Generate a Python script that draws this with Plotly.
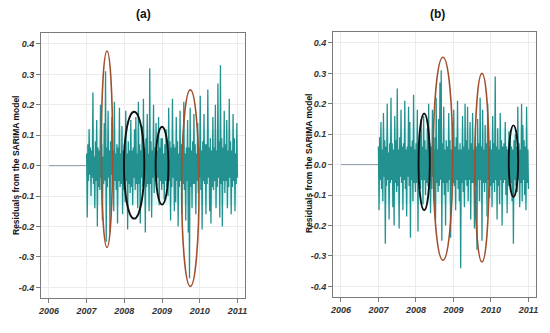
import numpy as np
import plotly.graph_objects as go

# ---------------- data ----------------
tick_years = [2006, 2007, 2008, 2009, 2010, 2011]
tick_values_y = [-0.4, -0.3, -0.2, -0.1, 0.0, 0.1, 0.2, 0.3, 0.4]
tick_labels_y = ["-0.4", "-0.3", "-0.2", "-0.1", "0.0", "0.1", "0.2", "0.3", "0.4"]

baseline_years = [2006.0, 2007.0]
baseline_values = [0.0, 0.0]

series_start, series_end = 2007.0, 2011.0

residuals_a = [
    0.04, -0.17, 0.07, -0.05, 0.12, -0.03, 0.06, -0.10, 0.05, -0.04,
    0.24, -0.06, 0.03, -0.14, 0.08, -0.05, 0.15, -0.20, 0.06, -0.07,
    0.05, -0.08, 0.20, -0.04, 0.07, -0.18, 0.03, -0.06, 0.14, -0.05,
    0.31, -0.25, 0.06, -0.07, 0.18, -0.04, 0.05, -0.22, 0.08, -0.03,
    0.16, -0.06, 0.05, -0.15, 0.21, -0.05, 0.04, -0.08, 0.07, -0.19,
    0.06, -0.05, 0.19, -0.07, 0.04, -0.06, 0.13, -0.16, 0.05, -0.08,
    0.07, -0.12, 0.18, -0.05, 0.04, -0.21, 0.08, -0.06, 0.05, -0.09,
    0.15, -0.07, 0.05, -0.13, 0.06, -0.04, 0.12, -0.08, 0.16, -0.06,
    0.04, -0.14, 0.21, -0.06, 0.07, -0.19, 0.05, -0.04, 0.13, -0.07,
    0.22, -0.05, 0.06, -0.22, 0.09, -0.07, 0.17, -0.06, 0.04, -0.15,
    0.32, -0.06, 0.08, -0.17, 0.05, -0.04, 0.20, -0.09, 0.06, -0.05,
    0.14, -0.07, 0.05, -0.04, 0.16, -0.13, 0.06, -0.05, 0.09, -0.08,
    0.09, -0.06, 0.04, -0.11, 0.07, -0.05, 0.12, -0.07, 0.05, -0.10,
    0.19, -0.05, 0.08, -0.18, 0.06, -0.07, 0.22, -0.04, 0.07, -0.15,
    0.06, -0.12, 0.16, -0.05, 0.08, -0.20, 0.04, -0.07, 0.18, -0.05,
    0.07, -0.16, 0.05, -0.06, 0.21, -0.08, 0.04, -0.18, 0.06, -0.05,
    0.15, -0.22, 0.06, -0.37, 0.19, -0.07, 0.05, -0.14, 0.08, -0.06,
    0.17, -0.06, 0.07, -0.16, 0.04, -0.05, 0.14, -0.09, 0.06, -0.04,
    0.23, -0.08, 0.05, -0.21, 0.08, -0.05, 0.17, -0.06, 0.07, -0.16,
    0.07, -0.06, 0.25, -0.04, 0.06, -0.15, 0.09, -0.19, 0.05, -0.07,
    0.16, -0.08, 0.06, -0.05, 0.20, -0.14, 0.05, -0.07, 0.27, -0.04,
    0.08, -0.17, 0.33, -0.06, 0.09, -0.20, 0.06, -0.05, 0.18, -0.09,
    0.07, -0.05, 0.15, -0.14, 0.05, -0.07, 0.22, -0.04, 0.08, -0.16,
    0.05, -0.07, 0.17, -0.05, 0.09, -0.15, 0.04, -0.06, 0.14, -0.04,
]

residuals_b = [
    0.06, -0.15, 0.09, -0.05, 0.14, -0.08, 0.05, -0.12, 0.17, -0.04,
    0.08, -0.26, 0.06, -0.07, 0.20, -0.05, 0.04, -0.18, 0.07, -0.06,
    0.22, -0.05, 0.07, -0.14, 0.05, -0.20, 0.16, -0.06, 0.08, -0.09,
    0.25, -0.07, 0.05, -0.21, 0.09, -0.04, 0.18, -0.06, 0.06, -0.15,
    0.07, -0.05, 0.21, -0.08, 0.05, -0.17, 0.06, -0.04, 0.19, -0.07,
    0.14, -0.24, 0.06, -0.05, 0.08, -0.12, 0.23, -0.06, 0.05, -0.09,
    0.07, -0.06, 0.18, -0.22, 0.05, -0.04, 0.10, -0.08, 0.15, -0.05,
    0.06, -0.13, 0.16, -0.05, 0.08, -0.10, 0.05, -0.06, 0.12, -0.07,
    0.20, -0.05, 0.07, -0.16, 0.06, -0.08, 0.18, -0.04, 0.05, -0.12,
    0.09, -0.18, 0.22, -0.06, 0.05, -0.09, 0.15, -0.07, 0.27, -0.05,
    0.31, -0.25, 0.07, -0.06, 0.19, -0.10, 0.05, -0.20, 0.08, -0.06,
    0.06, -0.09, 0.17, -0.05, 0.08, -0.24, 0.05, -0.07, 0.14, -0.06,
    0.18, -0.07, 0.06, -0.15, 0.09, -0.05, 0.21, -0.08, 0.05, -0.12,
    0.07, -0.34, 0.05, -0.06, 0.16, -0.09, 0.06, -0.14, 0.20, -0.05,
    0.08, -0.07, 0.19, -0.12, 0.05, -0.05, 0.14, -0.18, 0.07, -0.06,
    0.17, -0.06, 0.05, -0.21, 0.09, -0.07, 0.06, -0.28, 0.15, -0.05,
    0.07, -0.12, 0.22, -0.05, 0.06, -0.25, 0.18, -0.06, 0.05, -0.09,
    0.13, -0.06, 0.07, -0.17, 0.20, -0.05, 0.06, -0.11, 0.08, -0.07,
    0.05, -0.14, 0.16, -0.06, 0.07, -0.09, 0.29, -0.05, 0.06, -0.18,
    0.12, -0.07, 0.05, -0.13, 0.17, -0.05, 0.08, -0.20, 0.06, -0.06,
    0.07, -0.05, 0.14, -0.10, 0.06, -0.16, 0.05, -0.07, 0.11, -0.05,
    0.09, -0.06, 0.06, -0.12, 0.05, -0.26, 0.08, -0.05, 0.10, -0.07,
    0.06, -0.09, 0.19, -0.05, 0.07, -0.14, 0.05, -0.06, 0.20, -0.12,
    0.13, -0.05, 0.08, -0.10, 0.06, -0.15, 0.19, -0.06, 0.05, -0.08,
]

# highlighted periods (x0, x1, y0, y1) in data units, and kind
ellipses_a = [
    (2007.39, 2007.69, -0.269, 0.377, "red"),
    (2007.99, 2008.53, -0.174, 0.177, "black"),
    (2008.83, 2009.17, -0.128, 0.128, "black"),
    (2009.52, 2009.98, -0.397, 0.249, "red"),
]
ellipses_b = [
    (2008.07, 2008.37, -0.150, 0.168, "black"),
    (2008.46, 2008.98, -0.314, 0.353, "red"),
    (2009.57, 2009.95, -0.320, 0.300, "red"),
    (2010.475, 2010.725, -0.106, 0.129, "black"),
]

# ---------------- styling ----------------
LINE_COLOR = "#23918f"
BASE_COLOR = "#8a9aa8"
ELL_COLORS = {"red": "#a0502c", "black": "#111111"}
ELL_WIDTH = {"red": 1.6, "black": 1.9}
GRID = "#ececec"
AXIS = "#7a7a7a"
TICKFONT = dict(family="Liberation Sans, Arial", size=9, color="#333333",
                weight="bold", style="italic")

fig = go.Figure()

panels = [
    ("x", "y", residuals_a, ellipses_a, [0.0745, 0.4455], [0.105, 0.901], "(a)"),
    ("x2", "y2", residuals_b, ellipses_b, [0.6055, 0.9745], [0.108, 0.904], "(b)"),
]

for i, (xa, ya, vals, ells, xdom, ydom, title) in enumerate(panels):
    t = np.linspace(series_start, series_end, len(vals))
    # faint cyan halo behind the dense band
    fig.add_shape(type="rect", xref=xa, yref=ya, x0=series_start, x1=series_end,
                  y0=-0.13, y1=0.12, fillcolor="rgba(170,240,240,0.35)",
                  line_width=0, layer="below")
    fig.add_trace(go.Scatter(x=baseline_years, y=baseline_values, mode="lines",
                             line=dict(color=BASE_COLOR, width=1),
                             xaxis=xa, yaxis=ya, showlegend=False, hoverinfo="skip"))
    fig.add_trace(go.Scatter(x=t, y=vals, mode="lines",
                             line=dict(color=LINE_COLOR, width=1.3),
                             xaxis=xa, yaxis=ya, showlegend=False))
    for (x0, x1, y0, y1, kind) in ells:
        fig.add_shape(type="circle", xref=xa, yref=ya, x0=x0, x1=x1, y0=y0, y1=y1,
                      line=dict(color=ELL_COLORS[kind], width=ELL_WIDTH[kind]))
    sfx = "" if i == 0 else "2"
    fig.update_layout(**{
        f"xaxis{sfx}": dict(domain=xdom, range=[2005.79, 2011.2], anchor=ya,
                            tickvals=tick_years, ticktext=[str(v) for v in tick_years],
                            showgrid=True, gridcolor=GRID, zeroline=False,
                            showline=True, linecolor=AXIS, mirror=True,
                            ticks="outside", ticklen=4, tickcolor=AXIS,
                            tickfont=TICKFONT, automargin=False),
        f"yaxis{sfx}": dict(domain=ydom, range=[-0.435, 0.436], anchor=xa,
                            tickvals=tick_values_y, ticktext=tick_labels_y,
                            showgrid=True, gridcolor=GRID, zeroline=False,
                            showline=True, linecolor=AXIS, mirror=True,
                            ticks="outside", ticklen=4, tickcolor=AXIS,
                            tickfont=TICKFONT, automargin=False),
    })

TITLE_FONT = dict(family="Liberation Sans, Arial", size=12, color="#111")
LABEL_FONT = dict(family="Liberation Sans, Arial", size=8.5, color="#111")
annotations = [
    dict(text="<b>(a)</b>", x=143 / 550, y=1 - 14 / 333, xref="paper", yref="paper",
         xanchor="center", yanchor="middle", showarrow=False, font=TITLE_FONT),
    dict(text="<b>(b)</b>", x=437 / 550, y=1 - 14 / 333, xref="paper", yref="paper",
         xanchor="center", yanchor="middle", showarrow=False, font=TITLE_FONT),
    dict(text="<b>Residuals from the SARIMA model</b>", x=16 / 550, y=1 - 166 / 333,
         xref="paper", yref="paper", xanchor="center", yanchor="middle",
         textangle=-90, showarrow=False, font=LABEL_FONT),
    dict(text="<b>Residuals from the SARIMA model</b>", x=309 / 550, y=1 - 164 / 333,
         xref="paper", yref="paper", xanchor="center", yanchor="middle",
         textangle=-90, showarrow=False, font=LABEL_FONT),
]

fig.update_layout(width=550, height=333, margin=dict(l=0, r=0, t=0, b=0),
                  paper_bgcolor="white", plot_bgcolor="white",
                  annotations=annotations, showlegend=False)

fig.write_html("out.html", config={"displayModeBar": False},
               post_script="document.body.style.margin='0';document.body.style.padding='0';")
